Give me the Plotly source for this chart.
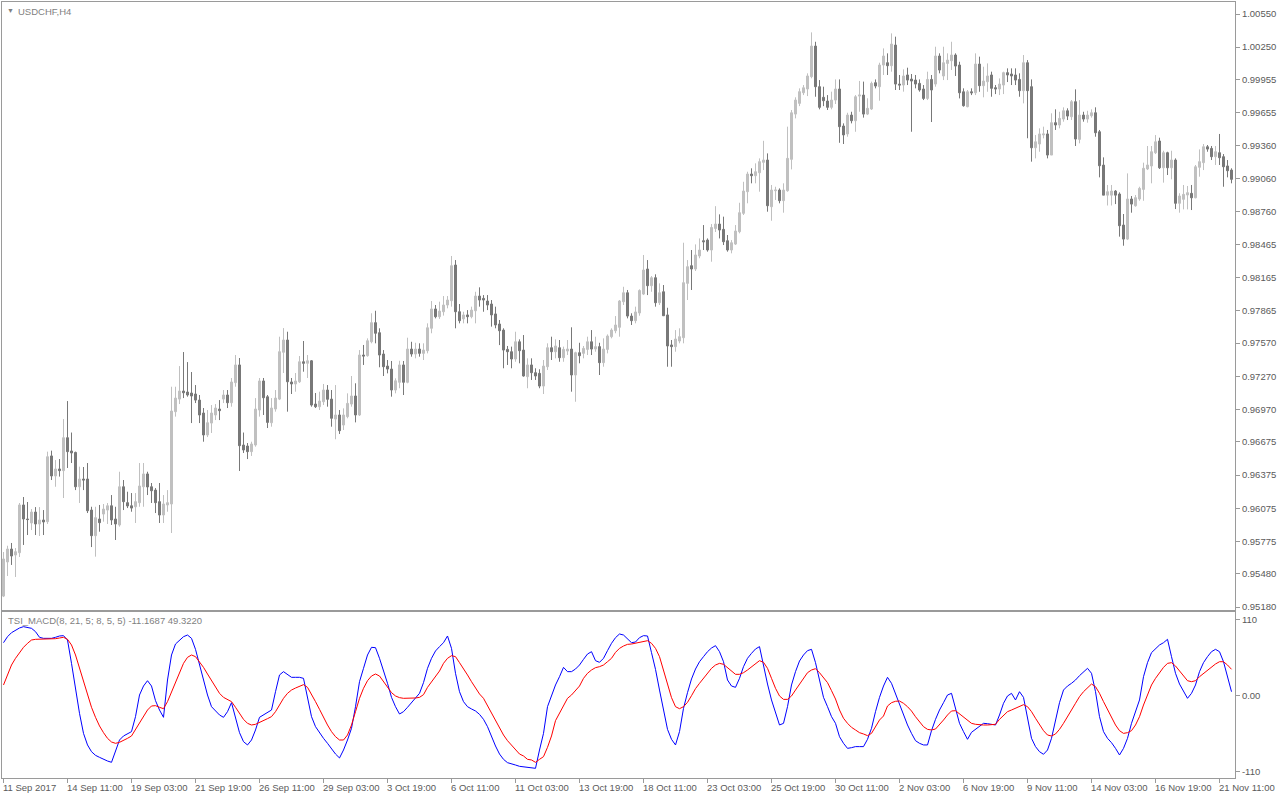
import plotly.graph_objects as go

# ---------------- data ----------------
open_ = [
0.95279,0.95588,0.95705,0.95651,0.95672,0.96104,0.95977,0.95941,0.96040,0.95932,
0.95968,0.95953,0.96548,0.96367,0.96430,0.96415,0.96713,0.96593,0.96580,0.96269,
0.96339,0.96339,0.96058,0.95826,0.95977,0.96022,0.96058,0.96097,0.95977,0.95923,
0.96269,0.96125,0.96097,0.96088,0.96125,0.96269,0.96385,0.96269,0.96239,0.96134,
0.96013,0.96104,0.96113,0.96949,0.97063,0.97136,0.97127,0.97118,0.97109,0.97054,
0.96937,0.96738,0.96846,0.96919,0.96973,0.97063,0.97100,0.97030,0.97212,0.97372,
0.96647,0.96638,0.96587,0.96647,0.96964,0.97227,0.97084,0.96849,0.96973,0.97063,
0.97487,0.97598,0.97218,0.97200,0.97220,0.97401,0.97387,0.97410,0.97018,0.96994,
0.97039,0.97145,0.97063,0.96882,0.96919,0.96828,0.96904,0.97018,0.97091,0.96919,
0.97462,0.97456,0.97582,0.97755,0.97664,0.97471,0.97362,0.97335,0.97145,0.97215,
0.97372,0.97215,0.97516,0.97471,0.97516,0.97477,0.97501,0.97704,0.97879,0.97809,
0.97854,0.97915,0.97954,0.98277,0.97854,0.97789,0.97825,0.97809,0.97863,0.97996,
0.97975,0.97951,0.97924,0.97834,0.97743,0.97688,0.97513,0.97492,0.97426,0.97582,
0.97507,0.97266,0.97372,0.97302,0.97296,0.97181,0.97356,0.97528,0.97492,0.97528,
0.97438,0.97498,0.97516,0.97281,0.97483,0.97477,0.97513,0.97582,0.97516,0.97538,
0.97393,0.97513,0.97628,0.97682,0.97713,0.97945,0.98026,0.97815,0.97773,0.97843,
0.98014,0.98241,0.98090,0.98162,0.97936,0.98035,0.97825,0.97553,0.97538,0.97589,
0.97619,0.98111,0.98271,0.98241,0.98359,0.98497,0.98503,0.98413,0.98608,0.98648,
0.98600,0.98497,0.98413,0.98467,0.98579,0.98745,0.98941,0.99101,0.99086,0.99113,
0.99207,0.99228,0.98805,0.98950,0.98956,0.98860,0.98950,0.99234,0.99644,0.99741,
0.99837,0.99871,0.99983,1.00260,0.99892,0.99796,0.99762,0.99705,0.99771,0.99871,
0.99536,0.99464,0.99635,0.99584,0.99807,0.99816,0.99644,0.99690,0.99928,0.99892,
1.00088,1.00109,1.00082,1.00269,0.99916,0.99907,0.99998,0.99961,0.99952,0.99922,
0.99871,0.99786,0.99958,0.99916,1.00170,0.99989,1.00103,1.00127,1.00179,1.00088,
0.99846,0.99711,0.99846,0.99837,1.00097,0.99901,0.99937,0.99998,0.99883,0.99871,
0.99907,1.00019,1.00007,0.99998,0.99958,0.99856,1.00109,0.99892,0.99339,0.99373,
0.99455,0.99464,0.99273,0.99566,0.99545,0.99599,0.99674,0.99620,0.99756,0.99415,
0.99635,0.99599,0.99629,0.99656,0.99484,0.99182,0.98910,0.98910,0.98947,0.98920,
0.98639,0.98512,0.98875,0.98814,0.98875,0.98962,0.99147,0.99174,0.99294,0.99400,
0.99158,0.99294,0.99158,0.99228,0.98836,0.98872,0.98911,0.98926,0.98886,0.99162,
0.99204,0.99348,0.99333,0.99258,0.99294,0.99258,0.99174,0.99137]

high = [
0.95678,0.95735,0.95760,0.95714,0.96122,0.96176,0.96131,0.96067,0.96085,0.96085,
0.96058,0.96587,0.96596,0.96511,0.96520,0.96882,0.97045,0.96760,0.96587,0.96451,
0.96448,0.96484,0.96088,0.96088,0.96104,0.96113,0.96122,0.96194,0.96088,0.96405,
0.96330,0.96224,0.96212,0.96212,0.96484,0.96484,0.96405,0.96303,0.96257,0.96303,
0.96194,0.96239,0.97175,0.97175,0.97362,0.97489,0.97398,0.97308,0.97190,0.97100,
0.96982,0.96964,0.97009,0.97018,0.97054,0.97145,0.97145,0.97254,0.97462,0.97435,
0.96760,0.96665,0.96677,0.97072,0.97254,0.97254,0.97100,0.97072,0.97145,0.97628,
0.97706,0.97673,0.97254,0.97299,0.97453,0.97589,0.97462,0.97417,0.97118,0.97130,
0.97200,0.97190,0.97145,0.97190,0.96964,0.96979,0.97115,0.97272,0.97206,0.97507,
0.97553,0.97613,0.97840,0.97863,0.97704,0.97507,0.97417,0.97408,0.97251,0.97410,
0.97408,0.97619,0.97582,0.97573,0.97568,0.97568,0.97749,0.97951,0.97915,0.97945,
0.97996,0.97996,0.98359,0.98322,0.97924,0.97854,0.97869,0.97900,0.98035,0.98075,
0.98005,0.98005,0.97960,0.97900,0.97779,0.97704,0.97544,0.97538,0.97673,0.97604,
0.97643,0.97432,0.97432,0.97342,0.97333,0.97417,0.97568,0.97628,0.97604,0.97598,
0.97538,0.97598,0.97713,0.97492,0.97573,0.97544,0.97628,0.97688,0.97628,0.97573,
0.97613,0.97649,0.97704,0.97815,0.97960,0.98080,0.98051,0.97840,0.97900,0.98057,
0.98368,0.98322,0.98177,0.98193,0.98111,0.98096,0.97890,0.97598,0.97688,0.97704,
0.98479,0.98322,0.98413,0.98464,0.98518,0.98639,0.98518,0.98648,0.98810,0.98736,
0.98715,0.98549,0.98503,0.98639,0.98841,0.99031,0.99122,0.99153,0.99198,0.99243,
0.99402,0.99288,0.99002,0.98986,0.98971,0.99017,0.99530,0.99681,0.99796,0.99877,
0.99907,1.00013,1.00384,1.00299,0.99952,0.99892,0.99816,0.99847,0.99958,0.99958,
0.99560,0.99656,0.99665,0.99816,0.99944,0.99938,0.99787,0.99938,0.99958,1.00109,
1.00239,1.00194,1.00375,1.00345,0.99998,1.00049,1.00064,1.00007,0.99998,0.99958,
0.99907,1.00028,0.99998,1.00254,1.00194,1.00254,1.00194,1.00299,1.00194,1.00118,
0.99877,0.99862,0.99877,1.00194,1.00164,1.00073,1.00103,1.00028,0.99907,0.99967,
1.00028,1.00058,1.00058,1.00058,1.00013,1.00179,1.00133,0.99958,0.99454,0.99515,
0.99530,0.99500,0.99651,0.99687,0.99665,0.99705,0.99696,0.99771,0.99868,0.99771,
0.99665,0.99674,0.99687,0.99705,0.99500,0.99252,0.99002,0.99002,0.98956,0.98935,
0.98739,0.99107,0.98902,0.98911,0.98986,0.99204,0.99355,0.99355,0.99454,0.99430,
0.99312,0.99303,0.99312,0.99243,0.98927,0.99002,0.98993,0.99002,0.99183,0.99324,
0.99373,0.99364,0.99355,0.99355,0.99464,0.99282,0.99228,0.99153]

low = [
0.95270,0.95461,0.95561,0.95452,0.95633,0.95742,0.95832,0.95877,0.95832,0.95823,
0.95832,0.95932,0.96330,0.96269,0.96361,0.96167,0.96439,0.96484,0.96239,0.96122,
0.96239,0.96031,0.95723,0.95636,0.95862,0.95953,0.95932,0.95923,0.95787,0.95908,
0.96058,0.96076,0.96043,0.95941,0.96088,0.96088,0.96194,0.96122,0.96031,0.95941,
0.95941,0.96043,0.95850,0.96904,0.97018,0.97072,0.97085,0.96846,0.97027,0.96846,
0.96677,0.96719,0.96756,0.96873,0.96873,0.97027,0.96982,0.96994,0.97175,0.96412,
0.96575,0.96520,0.96548,0.96632,0.96904,0.96919,0.96801,0.96813,0.96949,0.97054,
0.97299,0.96949,0.97109,0.97130,0.97209,0.97311,0.97254,0.96994,0.96982,0.96964,
0.97009,0.96994,0.96813,0.96699,0.96747,0.96783,0.96889,0.96994,0.96852,0.96910,
0.97372,0.97447,0.97568,0.97568,0.97351,0.97272,0.97296,0.97085,0.97115,0.97161,
0.97100,0.97206,0.97447,0.97432,0.97447,0.97417,0.97477,0.97659,0.97794,0.97789,
0.97819,0.97885,0.97900,0.97704,0.97749,0.97749,0.97749,0.97794,0.97749,0.97900,
0.97854,0.97869,0.97719,0.97704,0.97552,0.97342,0.97372,0.97342,0.97401,0.97387,
0.97266,0.97161,0.97236,0.97236,0.97161,0.97109,0.97326,0.97417,0.97432,0.97401,
0.97401,0.97462,0.97130,0.97039,0.97387,0.97432,0.97462,0.97462,0.97492,0.97281,
0.97356,0.97477,0.97613,0.97659,0.97628,0.97915,0.97794,0.97734,0.97749,0.97818,
0.98005,0.98005,0.98035,0.97900,0.97915,0.97815,0.97356,0.97356,0.97492,0.97568,
0.97568,0.97960,0.98051,0.98223,0.98338,0.98413,0.98398,0.98307,0.98576,0.98518,
0.98458,0.98398,0.98383,0.98458,0.98564,0.98730,0.98836,0.99017,0.99017,0.98941,
0.99137,0.98760,0.98678,0.98866,0.98836,0.98751,0.98941,0.99143,0.99605,0.99716,
0.99816,0.99807,0.99968,0.99801,0.99687,0.99716,0.99681,0.99687,0.99735,0.99384,
0.99373,0.99439,0.99560,0.99484,0.99665,0.99612,0.99635,0.99681,0.99877,0.99765,
0.99998,0.99998,1.00028,0.99862,0.99862,0.99847,0.99907,0.99484,0.99877,0.99847,
0.99771,0.99771,0.99572,0.99892,1.00013,0.99952,0.99952,1.00043,0.99989,0.99786,
0.99711,0.99705,0.99816,0.99816,0.99846,0.99796,0.99846,0.99801,0.99825,0.99816,
0.99825,0.99934,0.99907,0.99907,0.99801,0.99741,0.99425,0.99213,0.99243,0.99303,
0.99424,0.99243,0.99273,0.99500,0.99515,0.99575,0.99590,0.99590,0.99355,0.99379,
0.99575,0.99566,0.99612,0.99439,0.99071,0.98910,0.98816,0.98816,0.98829,0.98534,
0.98452,0.98503,0.98751,0.98805,0.98859,0.98859,0.99137,0.99017,0.99282,0.99147,
0.99023,0.99092,0.99053,0.98784,0.98751,0.98781,0.98781,0.98775,0.98881,0.99077,
0.99137,0.99303,0.99228,0.99183,0.99183,0.98986,0.99071,0.99017]

close = [
0.95615,0.95705,0.95642,0.95681,0.96104,0.95977,0.95972,0.96040,0.95932,0.95968,
0.95950,0.96541,0.96367,0.96430,0.96415,0.96713,0.96587,0.96575,0.96269,0.96339,
0.96330,0.96052,0.95826,0.95989,0.95944,0.96067,0.96097,0.95968,0.95932,0.96269,
0.96134,0.96095,0.96076,0.96134,0.96276,0.96385,0.96267,0.96233,0.96125,0.96013,
0.96113,0.96125,0.96955,0.97072,0.97136,0.97120,0.97100,0.97091,0.97054,0.96919,
0.96738,0.96849,0.96937,0.96982,0.96958,0.97100,0.97030,0.97218,0.97372,0.96641,
0.96602,0.96587,0.96656,0.96973,0.97227,0.97075,0.96852,0.96982,0.97072,0.97492,
0.97598,0.97220,0.97200,0.97227,0.97401,0.97387,0.97410,0.97009,0.96994,0.97045,
0.97145,0.97061,0.96889,0.96919,0.96777,0.96919,0.97024,0.97091,0.96919,0.97462,
0.97453,0.97591,0.97755,0.97659,0.97462,0.97356,0.97335,0.97145,0.97229,0.97372,
0.97215,0.97516,0.97471,0.97516,0.97477,0.97507,0.97709,0.97879,0.97809,0.97860,
0.97915,0.97960,0.98271,0.97854,0.97773,0.97825,0.97809,0.97869,0.97996,0.97960,
0.97960,0.97915,0.97825,0.97734,0.97682,0.97507,0.97492,0.97426,0.97582,0.97501,
0.97272,0.97372,0.97302,0.97272,0.97181,0.97362,0.97528,0.97492,0.97544,0.97438,
0.97513,0.97516,0.97281,0.97483,0.97456,0.97522,0.97582,0.97516,0.97538,0.97393,
0.97516,0.97634,0.97688,0.97734,0.97951,0.98026,0.97815,0.97773,0.97852,0.98046,
0.98232,0.98090,0.98162,0.97936,0.98026,0.97818,0.97544,0.97538,0.97607,0.97628,
0.98117,0.98262,0.98241,0.98368,0.98413,0.98488,0.98413,0.98617,0.98648,0.98594,
0.98488,0.98413,0.98479,0.98585,0.98751,0.98947,0.99101,0.99086,0.99122,0.99213,
0.99228,0.98814,0.98956,0.98956,0.98860,0.98956,0.99243,0.99656,0.99771,0.99847,
0.99882,0.99989,1.00260,0.99892,0.99705,0.99765,0.99705,0.99771,0.99871,0.99530,
0.99455,0.99635,0.99584,0.99801,0.99816,0.99644,0.99696,0.99922,0.99898,1.00088,
1.00170,1.00082,1.00278,0.99916,0.99907,0.99989,0.99952,0.99943,0.99916,0.99862,
0.99786,0.99958,0.99862,1.00170,1.00043,1.00109,1.00133,1.00179,1.00079,0.99837,
0.99720,0.99846,0.99837,1.00097,0.99901,0.99943,0.99989,0.99877,0.99871,0.99916,
1.00019,0.99998,0.99989,0.99952,0.99856,1.00109,0.99856,0.99339,0.99393,0.99464,
0.99464,0.99273,0.99566,0.99545,0.99605,0.99674,0.99626,0.99756,0.99418,0.99635,
0.99599,0.99635,0.99656,0.99475,0.99176,0.98910,0.98941,0.98947,0.98910,0.98633,
0.98512,0.98875,0.98829,0.98887,0.98971,0.99153,0.99183,0.99303,0.99393,0.99158,
0.99294,0.99158,0.99228,0.98836,0.98902,0.98917,0.98932,0.98886,0.99167,0.99213,
0.99348,0.99327,0.99258,0.99303,0.99249,0.99167,0.99131,0.99053]

tsi_line = [
77.1,85.8,91.6,95.5,98.4,100.3,99.3,97.9,93.1,84.9,
83.4,83.4,83.4,84.9,86.8,87.3,81.0,47.2,8.6,-25.1,
-54.1,-70.9,-80.6,-85.9,-88.8,-91.7,-94.1,-96.0,-78.2,-63.7,
-57.9,-55.0,-51.6,-29.9,1.4,14.4,22.1,14.4,-6.8,-20.3,
-30.9,23.1,59.3,75.2,81.0,85.8,88.2,83.4,67.5,44.8,
20.7,1.4,-15.5,-21.3,-27.5,-30.9,-22.7,-9.7,-30.9,-53.1,
-66.1,-70.9,-63.7,-49.2,-30.9,-27.5,-24.1,-20.3,6.2,30.4,
35.2,30.4,27.0,27.0,27.0,25.5,-1.0,-29.9,-44.4,-53.1,
-61.3,-68.5,-77.2,-84.0,-89.7,-78.2,-63.7,-46.8,-15.5,20.7,
40.0,59.3,70.4,69.9,54.5,37.6,18.3,-2.0,-15.5,-26.1,
-22.7,-16.4,-9.2,-2.0,3.8,19.3,40.0,54.5,65.1,71.4,
77.1,86.8,68.9,32.8,6.2,-8.2,-15.5,-18.8,-21.7,-26.6,
-33.8,-44.4,-58.9,-72.4,-84.0,-91.7,-96.5,-97.9,-99.9,-101.8,
-102.8,-103.2,-104.2,-104.7,-78.2,-54.1,-15.5,1.4,15.9,27.9,
41.4,35.2,35.2,39.0,44.8,53.0,60.7,64.1,51.1,48.7,
54.5,65.6,76.2,84.4,89.7,88.2,82.0,77.1,78.1,84.4,
87.3,86.8,62.7,38.5,8.6,-20.3,-48.3,-62.7,-70.9,-51.6,
-17.9,4.8,24.6,39.0,49.6,56.9,64.1,69.4,72.8,64.1,
49.6,23.1,14.4,12.5,25.5,42.4,54.5,61.7,68.0,71.4,
42.4,17.3,-5.8,-25.1,-42.0,-39.6,-15.5,15.9,35.2,50.6,
59.3,65.6,67.5,48.2,20.7,-2.0,-15.5,-29.9,-39.6,-58.9,
-68.5,-75.8,-74.8,-73.3,-73.3,-73.3,-62.7,-46.8,-22.7,-2.0,
14.4,27.0,18.3,2.9,-14.0,-29.0,-42.0,-54.1,-64.7,-68.5,
-70.9,-70.9,-50.2,-33.8,-20.3,-9.7,1.4,3.8,-17.9,-39.6,
-51.6,-62.7,-52.6,-48.3,-44.4,-39.6,-40.1,-41.5,-42.0,-27.5,
-10.6,0.0,3.8,-5.8,6.2,-2.0,-32.3,-61.3,-73.3,-80.6,
-84.4,-78.2,-61.3,-37.2,-9.7,8.6,14.4,18.3,23.1,29.4,
35.2,40.0,32.8,6.2,-29.9,-51.6,-61.3,-67.6,-75.8,-85.4,
-75.8,-61.3,-39.6,-22.7,-5.8,27.9,48.2,62.7,68.9,73.8,
77.1,82.0,56.9,32.8,17.3,6.2,-3.4,3.8,15.9,35.2,
48.2,56.9,64.1,67.5,64.1,49.6,27.9,6.2]

signal_line = [
15.9,31.8,44.8,54.5,62.7,70.4,76.2,81.0,82.0,82.0,
82.0,82.0,82.0,82.9,83.9,84.9,82.0,73.8,59.3,40.0,
20.7,1.4,-16.4,-30.9,-43.4,-53.1,-61.3,-66.6,-68.5,-67.1,
-64.7,-61.3,-57.9,-48.3,-38.6,-29.0,-20.3,-14.5,-14.0,-16.4,
-18.4,-8.2,6.2,20.7,33.7,47.2,55.9,59.3,56.9,49.6,
41.4,31.8,22.1,12.5,3.8,-2.0,-4.9,-8.2,-16.4,-25.1,
-33.8,-39.6,-42.0,-41.0,-38.6,-35.7,-32.8,-29.9,-22.7,-13.1,
-3.4,3.8,8.6,11.5,14.4,16.4,12.5,2.9,-8.2,-19.3,
-30.9,-42.0,-51.6,-58.9,-63.7,-63.7,-56.5,-42.0,-22.7,-3.4,
11.1,22.1,28.9,31.8,28.9,20.7,12.5,4.8,0.0,-2.4,
-3.4,-3.4,-3.4,-2.9,-2.0,1.9,12.5,20.7,29.4,36.1,
47.2,54.5,58.3,56.9,48.2,40.0,30.4,20.7,12.5,2.9,
-3.4,-14.0,-24.1,-34.8,-45.4,-56.5,-64.7,-70.9,-77.2,-84.0,
-86.8,-91.7,-92.6,-96.0,-91.7,-87.8,-74.3,-57.9,-35.7,-25.1,
-13.1,-3.4,1.4,8.6,14.4,25.5,32.8,37.6,41.0,42.4,
44.8,49.6,54.5,63.1,68.9,72.3,74.7,75.2,76.2,77.6,
78.6,80.0,76.2,68.9,56.9,37.6,16.9,-2.4,-15.5,-18.4,
-15.5,-9.2,0.4,10.6,18.3,25.5,32.8,40.0,44.8,47.2,
45.8,41.0,35.2,31.3,31.3,33.7,37.6,42.4,47.2,51.1,
48.7,40.0,25.5,11.1,0.0,-4.9,-4.9,0.0,8.6,17.3,
26.5,33.7,37.6,39.5,33.7,27.0,19.3,7.7,-4.4,-20.3,
-32.3,-39.6,-45.4,-49.2,-53.1,-55.0,-57.4,-54.1,-45.4,-34.8,
-29.0,-14.5,-9.7,-7.7,-7.3,-10.6,-15.5,-21.7,-30.0,-37.2,
-44.4,-48.3,-49.2,-47.8,-42.0,-34.8,-27.5,-21.7,-21.3,-26.1,
-31.4,-35.7,-39.6,-41.0,-42.0,-42.0,-42.0,-42.0,-41.0,-33.8,
-27.5,-22.7,-20.3,-17.9,-15.5,-12.6,-15.5,-22.7,-32.3,-42.0,
-50.2,-56.5,-57.9,-55.0,-48.3,-39.6,-30.9,-20.3,-10.6,-1.0,
6.2,12.5,17.3,13.5,3.8,-8.2,-19.3,-30.0,-42.0,-50.2,
-54.1,-53.1,-50.2,-42.0,-30.0,-13.1,2.9,15.9,25.5,33.7,
41.4,47.2,48.2,43.4,36.1,28.9,22.1,20.7,22.1,27.9,
32.8,37.6,42.4,46.3,49.6,49.6,44.8,38.6]

date_labels = ["11 Sep 2017", "14 Sep 11:00", "19 Sep 03:00", "21 Sep 19:00",
               "26 Sep 11:00", "29 Sep 03:00", "3 Oct 19:00", "6 Oct 11:00",
               "11 Oct 03:00", "13 Oct 19:00", "18 Oct 11:00", "23 Oct 03:00",
               "25 Oct 19:00", "30 Oct 11:00", "2 Nov 03:00", "6 Nov 19:00",
               "9 Nov 11:00", "14 Nov 03:00", "16 Nov 19:00", "21 Nov 11:00"]
label_step = 16  # bars between date labels

price_labels = ["1.00550", "1.00250", "0.99955", "0.99655", "0.99360", "0.99060",
                "0.98760", "0.98465", "0.98165", "0.97865", "0.97570", "0.97270",
                "0.96970", "0.96675", "0.96375", "0.96075", "0.95775", "0.95480",
                "0.95180"]
ind_tick_vals = [110, 0, -110]
ind_tick_text = ["110", "0.00", "-110"]

symbol_title = "USDCHF,H4"
indicator_title = "TSI_MACD(8, 21, 5; 8, 5, 5) -11.1687 49.3220"

# ---------------- styling ----------------
BULL = "#C0C0C0"
BEAR = "#787878"
FRAME = "#9A9A9A"
TXT = "#5A5A5A"
TITLE_TXT = "#7F7F7F"
FONT = "Liberation Sans, Arial, sans-serif"
FS = 9.5

n = len(close)
bars = list(range(n))
x_range = [-0.375, n - 0.125]

fig = go.Figure()
fig.add_trace(go.Candlestick(
    x=bars, open=open_, high=high, low=low, close=close,
    increasing=dict(line=dict(color=BULL, width=1), fillcolor=BULL),
    decreasing=dict(line=dict(color=BEAR, width=1), fillcolor=BEAR),
    whiskerwidth=0, xaxis="x", yaxis="y", showlegend=False, hoverinfo="skip"))
fig.add_trace(go.Scatter(x=bars, y=tsi_line, mode="lines",
                         line=dict(color="#0000FF", width=1),
                         xaxis="x2", yaxis="y2", showlegend=False, hoverinfo="skip"))
fig.add_trace(go.Scatter(x=bars, y=signal_line, mode="lines",
                         line=dict(color="#FF0000", width=1),
                         xaxis="x2", yaxis="y2", showlegend=False, hoverinfo="skip"))

axis_common = dict(showgrid=False, zeroline=False, showline=True, mirror=True,
                   linecolor=FRAME, linewidth=1, fixedrange=True)

fig.update_layout(
    width=1280, height=800, autosize=False,
    margin=dict(l=2, r=45, t=2, b=22),
    paper_bgcolor="white", plot_bgcolor="white",
    showlegend=False, boxgap=0.5, boxgroupgap=0,
    font=dict(family=FONT, size=FS, color=TXT),
    xaxis=dict(domain=[0, 1], range=x_range, anchor="y", showticklabels=False,
               ticks="", rangeslider=dict(visible=False), **axis_common),
    yaxis=dict(domain=[0.2165, 1], range=[0.95153, 1.00659], anchor="x", side="right",
               tickvals=[float(v) for v in price_labels], ticktext=price_labels,
               ticks="outside", ticklen=4, tickcolor=FRAME,
               tickfont=dict(family=FONT, size=FS, color=TXT), **axis_common),
    xaxis2=dict(domain=[0, 1], range=x_range, anchor="y2", showticklabels=False,
                tickvals=[k * label_step for k in range(len(date_labels))],
                ticks="outside", ticklen=4, tickcolor=FRAME, **axis_common),
    yaxis2=dict(domain=[0, 0.2139], range=[-118.7, 121.5], anchor="x2", side="right",
                tickvals=ind_tick_vals, ticktext=ind_tick_text,
                ticks="outside", ticklen=4, tickcolor=FRAME,
                tickfont=dict(family=FONT, size=FS, color=TXT), **axis_common),
)

annotations = []
for k, lab in enumerate(date_labels):
    annotations.append(dict(x=k * label_step, xref="x2", y=0, yref="paper",
                            text=lab, showarrow=False, xanchor="left", yanchor="top",
                            xshift=-3, yshift=-2,
                            font=dict(family=FONT, size=FS, color=TXT)))
annotations.append(dict(x=0, xref="paper", y=1, yref="paper", text="▼",
                        showarrow=False, xanchor="left", yanchor="top",
                        xshift=3, yshift=-3, font=dict(family=FONT, size=7, color=TITLE_TXT)))
annotations.append(dict(x=0, xref="paper", y=1, yref="paper", text=symbol_title,
                        showarrow=False, xanchor="left", yanchor="top",
                        xshift=14, yshift=-2, font=dict(family=FONT, size=FS, color=TITLE_TXT)))
annotations.append(dict(x=0, xref="paper", y=1, yref="y2 domain", text=indicator_title,
                        showarrow=False, xanchor="left", yanchor="top",
                        xshift=4, yshift=-1, font=dict(family=FONT, size=FS, color=TITLE_TXT)))
fig.update_layout(annotations=annotations)

fig.write_html("out.html",
               config={"displayModeBar": False, "staticPlot": True},
               post_script="document.body.style.margin='0px';document.body.style.overflow='hidden';")
